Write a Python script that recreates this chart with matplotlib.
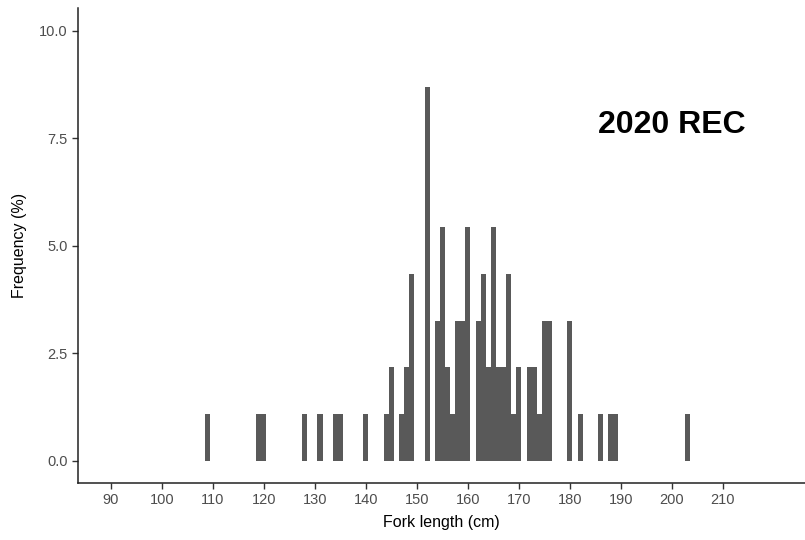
import matplotlib.pyplot as plt
import numpy as np

plt.rcParams['font.family'] = ['Liberation Sans', 'DejaVu Sans']

# fork length bins (cm, 1 cm wide) and number of fish in each
lengths = [109, 119, 120, 128, 131, 134, 135, 140, 144, 145, 147, 148, 149,
           152, 154, 155, 156, 157, 158, 159, 160, 162, 163, 164, 165, 166,
           167, 168, 169, 170, 172, 173, 174, 175, 176, 180, 182, 186, 188,
           189, 203]
counts = [1, 1, 1, 1, 1, 1, 1, 1, 1, 2, 1, 2, 4,
          8, 3, 5, 2, 1, 3, 3, 5, 3, 4, 2, 5, 2,
          2, 4, 1, 2, 2, 2, 1, 3, 3, 3, 1, 1, 1,
          1, 1]
x_ticks = list(range(90, 211, 10))
y_ticks = [0.0, 2.5, 5.0, 7.5, 10.0]

pct = np.array(counts) / sum(counts) * 100

fig = plt.figure(figsize=(8.05, 5.40), dpi=100)
ax = fig.add_axes([0.0963, 0.105, 0.9037, 0.880])

ax.bar(lengths, pct, width=1.0, color='#595959', linewidth=0)

ax.set_xlim(83.45, 226.1)
ax.set_ylim(-0.52, 10.53)
ax.set_xticks(x_ticks)
ax.set_yticks(y_ticks)
ax.set_yticklabels([f'{v:.1f}' for v in y_ticks])

for side in ['top', 'right']:
    ax.spines[side].set_visible(False)
for side in ['left', 'bottom']:
    ax.spines[side].set_color('#222222')
    ax.spines[side].set_linewidth(1.1)
ax.tick_params(length=4, width=1, color='#333333', labelcolor='#4D4D4D',
               labelsize=10.5, pad=3)

ax.set_xlabel('Fork length (cm)', fontsize=11.5, color='black', labelpad=6)
ax.set_ylabel('Frequency (%)', fontsize=11.5, color='black', labelpad=9)

ax.text(200, 7.82, '2020 REC', fontsize=23, fontweight='bold', color='black',
        ha='center', va='center')

fig.savefig('out.png', dpi=100)
